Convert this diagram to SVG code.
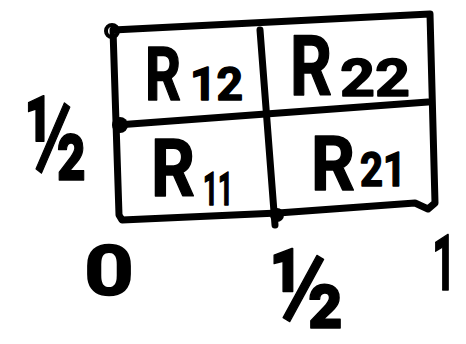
<svg xmlns="http://www.w3.org/2000/svg" width="466" height="344" viewBox="0 0 466 344">
<style>
.ln{fill:none;stroke:#000;stroke-width:7;stroke-linecap:round;stroke-linejoin:round}
.t{font-family:Roboto,"Liberation Sans",Arial,sans-serif;font-weight:bold;fill:#000;stroke:#000;stroke-width:1.5;stroke-linejoin:round}
</style>
<rect width="466" height="344" fill="#fff"/>
<g id="grid">
<path class="ln" d="M113,30 L430,14 L435,203 L428,209 L415,203 L278,213 L122,220 L119,215 L113,30"/>
<path class="ln" d="M117,125 L428,102"/>
<path class="ln" d="M260,30 L275,225"/>
<circle cx="112" cy="31" r="6" fill="none" stroke="#000" stroke-width="4"/>
<circle cx="120" cy="125" r="8" fill="#000"/>
<circle cx="277" cy="215" r="7" fill="#000"/>
</g>
<g id="R12">
<text class="t" x="145" y="100" font-size="74" textLength="36" lengthAdjust="spacingAndGlyphs">R</text>
<text class="t" x="190" y="100" font-size="46" textLength="53" lengthAdjust="spacingAndGlyphs">12</text>
</g>
<g id="R22">
<text class="t" x="290" y="95" font-size="84" textLength="42" lengthAdjust="spacingAndGlyphs">R</text>
<text class="t" x="340" y="96" font-size="52" textLength="70" lengthAdjust="spacingAndGlyphs">22</text>
</g>
<g id="R11">
<text class="t" x="151" y="196" font-size="80" textLength="44" lengthAdjust="spacingAndGlyphs">R</text>
<text class="t" x="203" y="205" font-size="46" textLength="30" lengthAdjust="spacingAndGlyphs">11</text>
</g>
<g id="R21">
<text class="t" x="311" y="190" font-size="76" textLength="44" lengthAdjust="spacingAndGlyphs">R</text>
<text class="t" x="360" y="186" font-size="48" textLength="46" lengthAdjust="spacingAndGlyphs">21</text>
</g>
<g id="axis-labels">
<text class="t" x="25" y="180" font-size="118" textLength="62" lengthAdjust="spacingAndGlyphs">½</text>
<text class="t" x="84" y="295" font-size="70" textLength="50" lengthAdjust="spacingAndGlyphs">0</text>
<text class="t" x="270" y="328" font-size="112" textLength="74" lengthAdjust="spacingAndGlyphs">½</text>
<text class="t" x="432" y="290" font-size="78" textLength="24" lengthAdjust="spacingAndGlyphs">1</text>
</g>
</svg>
